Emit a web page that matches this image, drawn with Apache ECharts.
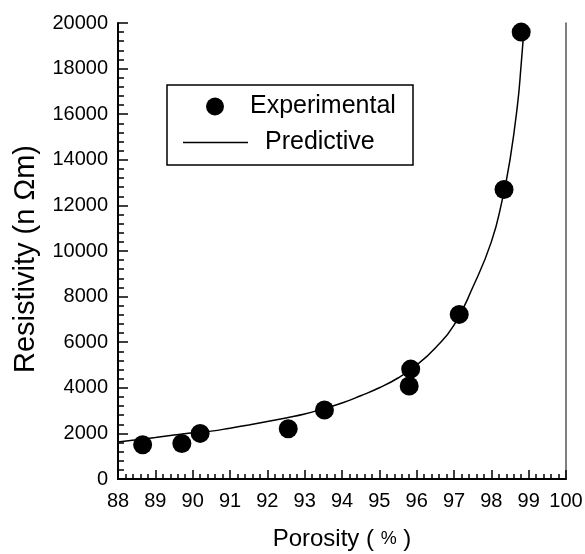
<!DOCTYPE html>
<html>
<head>
<meta charset="utf-8">
<script src="https://cdn.jsdelivr.net/npm/echarts@6/dist/echarts.min.js"></script>
<style>
  html, body { margin: 0; padding: 0; background: #fff; }
  #chart { width: 585px; height: 554px; }
</style>
</head>
<body>
<div id="chart"></div>
<script>
// measured points
var expPorosity = [88.66, 89.71, 90.2, 92.56, 93.53, 95.8, 95.84, 97.14, 98.34, 98.8];
var expResist   = [1500, 1560, 2000, 2200, 3030, 4080, 4820, 7220, 12700, 19600];

// predictive curve
var predPorosity = [88.0, 88.5, 89.0, 89.5, 90.0, 90.5, 91.0, 91.5, 92.0, 92.5, 93.0, 93.5, 94.0, 94.5, 95.0, 95.5, 96.0, 96.5, 97.0, 97.5, 98.0, 98.3, 98.5, 98.7, 98.8, 98.87];
var predResist   = [1620, 1720, 1820, 1930, 2030, 2100, 2230, 2370, 2520, 2680, 2850, 3080, 3330, 3650, 4000, 4430, 5000, 5750, 6750, 8400, 10400, 12300, 14000, 16400, 18200, 19700];

var expData = [];
for (var i = 0; i < expPorosity.length; i++) {
    expData.push([expPorosity[i], expResist[i]]);
}
var predData = [];
for (var j = 0; j < predPorosity.length; j++) {
    predData.push([predPorosity[j], predResist[j]]);
}

var font = 'Liberation Sans, Arial, sans-serif';
var myChart = echarts.init(document.getElementById('chart'));

// top / right frame lines (no ticks, no labels)
var frameAxis = {
    type: 'value',
    axisLine: { show: true, lineStyle: { color: '#555', width: 1.5 } },
    axisTick: { show: false },
    axisLabel: { show: false },
    splitLine: { show: false }
};

var option = {
    backgroundColor: '#fff',
    animation: false,
    grid: { left: 118, right: 19, top: 23, bottom: 75, outerBoundsMode: 'none' },
    graphic: [
        {
            type: 'rect',
            shape: { x: 167, y: 85, width: 246, height: 80 },
            style: { fill: '#fff', stroke: '#000', lineWidth: 1.5 },
            z: 10
        }
    ],
    legend: [
        {
            data: ['Experimental'],
            left: 206, top: 94,
            padding: 0,
            itemWidth: 18, itemHeight: 18,
            textStyle: { fontFamily: font, fontSize: 25, color: '#000', padding: [0, 0, 0, 21] },
            z: 20
        },
        {
            data: [{ name: 'Predictive', icon: 'rect' }],
            left: 183, top: 130,
            padding: 0,
            itemWidth: 65, itemHeight: 1.5,
            textStyle: { fontFamily: font, fontSize: 25, color: '#000', padding: [0, 0, 0, 12] },
            z: 20
        }
    ],
    xAxis: [
        {
            type: 'value',
            position: 'bottom',
            min: 88, max: 100, interval: 1,
            name: 'Porosity ( {s|%} )',
            nameLocation: 'middle',
            nameGap: 48,
            nameTextStyle: {
                fontFamily: font, fontSize: 24, color: '#000',
                rich: { s: { fontFamily: font, fontSize: 18, color: '#000' } }
            },
            axisLine: { show: true, onZero: false, lineStyle: { color: '#000', width: 2 } },
            axisTick: { show: true, inside: true, length: 9, lineStyle: { color: '#000', width: 1.5 } },
            minorTick: { show: true, splitNumber: 5, length: 5, lineStyle: { color: '#000', width: 1.5 } },
            axisLabel: { fontFamily: font, fontSize: 20, color: '#000', margin: 12 },
            splitLine: { show: false },
            z: 5
        },
        Object.assign({ position: 'top', min: 88, max: 100 }, frameAxis)
    ],
    yAxis: [
        {
            type: 'value',
            position: 'left',
            min: 0, max: 20000, interval: 2000,
            name: 'Resistivity (n Ωm)',
            nameLocation: 'middle',
            nameGap: 78,
            nameTextStyle: { fontFamily: font, fontSize: 29, color: '#000', padding: [0, 16, 0, 0] },
            axisLine: { show: true, onZero: false, lineStyle: { color: '#000', width: 2 } },
            axisTick: { show: true, inside: true, length: 10, lineStyle: { color: '#000', width: 1.5 } },
            minorTick: { show: true, splitNumber: 5, length: 6, lineStyle: { color: '#000', width: 1.5 } },
            axisLabel: {
                fontFamily: font, fontSize: 20, color: '#000', margin: 10,
                formatter: function (v) { return String(v); }
            },
            splitLine: { show: false },
            z: 5
        },
        Object.assign({ position: 'right', min: 0, max: 20000 }, frameAxis)
    ],
    series: [
        {
            name: 'Experimental',
            type: 'scatter',
            data: expData,
            symbol: 'circle',
            symbolSize: 19,
            itemStyle: { color: '#000', opacity: 1 },
            z: 3
        },
        {
            name: 'Predictive',
            type: 'line',
            data: predData,
            smooth: true,
            symbol: 'none',
            lineStyle: { color: '#000', width: 1.5 },
            itemStyle: { color: '#000' },
            z: 2
        }
    ]
};

myChart.setOption(option);
</script>
</body>
</html>
